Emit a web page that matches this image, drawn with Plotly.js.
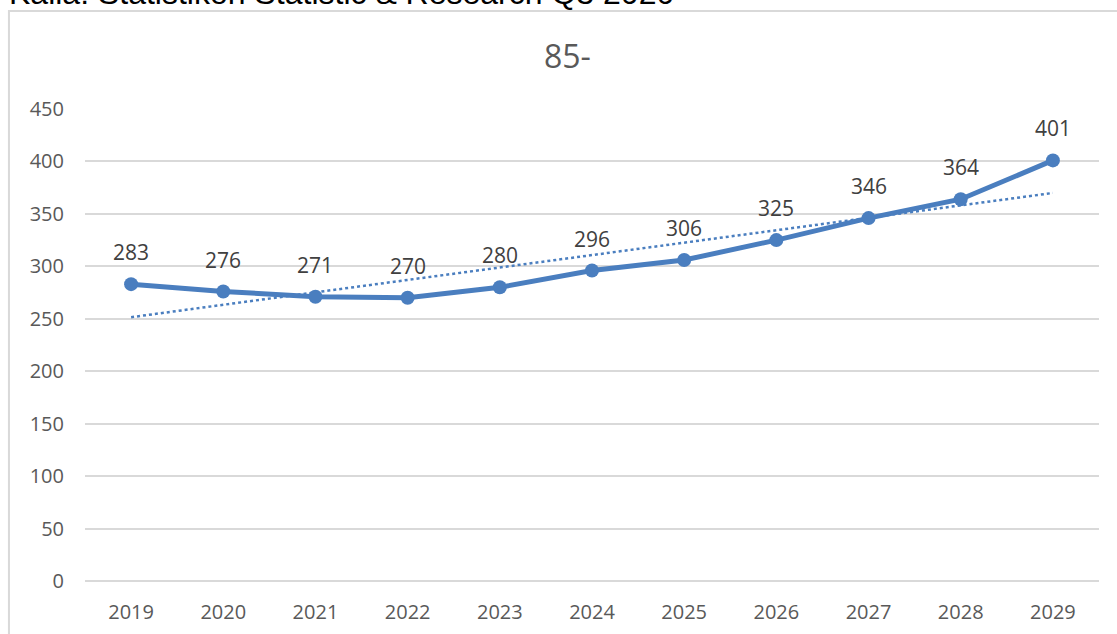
<!DOCTYPE html>
<html>
<head>
<meta charset="utf-8">
<script src="https://cdn.plot.ly/plotly-3.0.1.min.js"></script>
<style>html,body{margin:0;padding:0;background:#fff;}#chart{width:1117px;height:634px;}</style>
</head>
<body>
<div id="chart"></div>
<script>
const years = ['2019','2020','2021','2022','2023','2024','2025','2026','2027','2028','2029'];
const values = [283, 276, 271, 270, 280, 296, 306, 325, 346, 364, 401];
const yTicks = [0, 50, 100, 150, 200, 250, 300, 350, 400, 450];
const chartTitle = '85-';
const sourceText = 'Källa: Statistikon Statistic & Research Q3 2020';

// Linear trendline (least squares), as the source spreadsheet draws it
const n = values.length;
const xs = values.map((_, i) => i + 1);
const mx = xs.reduce((a, b) => a + b, 0) / n;
const my = values.reduce((a, b) => a + b, 0) / n;
let sxy = 0, sxx = 0;
for (let i = 0; i < n; i++) { sxy += (xs[i] - mx) * (values[i] - my); sxx += (xs[i] - mx) ** 2; }
const slope = sxy / sxx;
const trend = xs.map(x => my + slope * (x - mx));

const blue = '#4a7ebf';
const font = 'Open Sans, DejaVu Sans, sans-serif';

const traces = [
  {
    x: years, y: trend, type: 'scatter', mode: 'lines',
    line: {color: blue, width: 2.5, dash: 'dot'},
    hoverinfo: 'skip', showlegend: false
  },
  {
    x: years, y: values, type: 'scatter', mode: 'lines+markers',
    line: {color: blue, width: 5},
    marker: {color: blue, size: 14},
    showlegend: false
  }
];

const annotations = years.map((yr, i) => ({
  x: i, y: values[i], xref: 'x', yref: 'y',
  text: String(values[i]), showarrow: false, yshift: 32,
  font: {family: font, size: 21, color: '#404040'}
}));
annotations.push({
  x: -0.077, y: 1.204, xref: 'paper', yref: 'paper', xanchor: 'left', yanchor: 'bottom',
  text: sourceText, showarrow: false,
  font: {family: 'Liberation Sans, Arial, sans-serif', size: 32, color: '#000000'}
});

const layout = {
  width: 1117, height: 634,
  margin: {l: 85, r: 18, t: 109, b: 53},
  paper_bgcolor: '#ffffff', plot_bgcolor: '#ffffff',
  title: {text: chartTitle, x: 0.508, xanchor: 'center', y: 0.91, yanchor: 'middle',
    font: {family: font, size: 32, color: '#595959'}},
  xaxis: {
    type: 'category', categoryorder: 'array', categoryarray: years,
    range: [-0.5, years.length - 0.5],
    showgrid: false, zeroline: false, showline: false, ticks: '',
    tickfont: {family: font, size: 20, color: '#595959'},
    ticklabelstandoff: 17
  },
  yaxis: {
    range: [0, 450], tickvals: yTicks, ticktext: yTicks.map(String),
    showgrid: true, gridcolor: '#d9d9d9', gridwidth: 2,
    zeroline: true, zerolinecolor: '#d9d9d9', zerolinewidth: 2,
    showline: false, ticks: '',
    tickfont: {family: font, size: 20, color: '#595959'},
    ticklabelstandoff: 20
  },
  shapes: [{
    type: 'rect', xref: 'paper', yref: 'paper',
    x0: -0.075, x1: 1.2, y0: -0.3, y1: 1.2076,
    line: {color: '#d9d9d9', width: 2}, fillcolor: 'rgba(0,0,0,0)', layer: 'below'
  }],
  annotations: annotations,
  hovermode: false
};

Plotly.newPlot('chart', traces, layout, {displayModeBar: false, staticPlot: true});
</script>
</body>
</html>
